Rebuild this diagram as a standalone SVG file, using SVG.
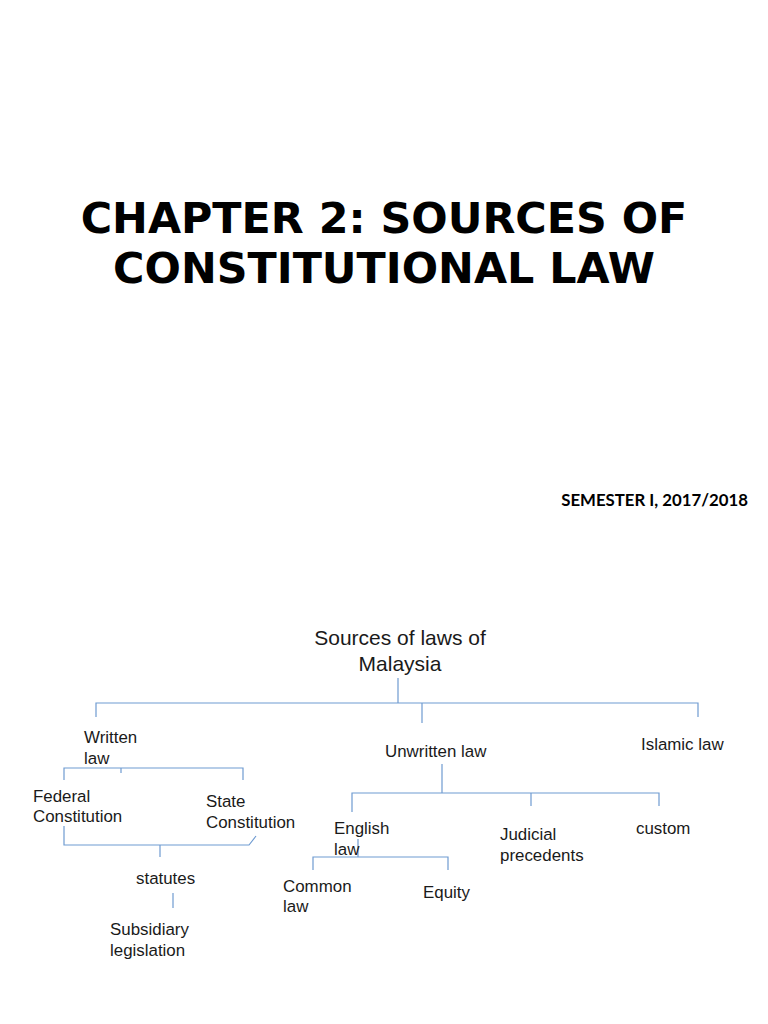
<svg xmlns="http://www.w3.org/2000/svg" width="768" height="1024" viewBox="0 0 768 1024">
<style>
.t{font-family:"DejaVu Sans",sans-serif;font-weight:bold;font-size:42.8px;fill:#000;text-anchor:middle}
.s{font-family:Lato,"Liberation Sans",sans-serif;font-weight:bold;font-size:16.8px;fill:#000;text-anchor:end}
.l{font-family:"Liberation Sans",Arial,sans-serif;font-size:16.9px;fill:#1a1a1a}
.h{font-family:"Liberation Sans",Arial,sans-serif;font-size:21px;fill:#1a1a1a;text-anchor:middle}
.c{stroke:#6f9bd1;stroke-width:1.2;fill:none}
</style>
<rect width="768" height="1024" fill="#fff"/>
<g id="title">
<text class="t" x="384" y="233">CHAPTER 2: SOURCES OF</text>
<text class="t" x="384" y="283">CONSTITUTIONAL LAW</text>
</g>
<g id="semester"><text class="s" x="748" y="506">SEMESTER I, 2017/2018</text></g>
<g id="connectors">
<path class="c" d="M398,678V703M96,717V703H698V717M422,703V723"/>
<path class="c" d="M64,780V768H243V780M121,768V773"/>
<path class="c" d="M64,826V845H249L256,836M160,845V857"/>
<path class="c" d="M173,893V908"/>
<path class="c" d="M442,764V793M352,812V793H659V806M531,793V806"/>
<path class="c" d="M358,839V857M313,870V857H448V870"/>
</g>
<g id="root"><text class="h" x="400" y="645">Sources of laws of</text><text class="h" x="400" y="671">Malaysia</text></g>
<g id="written"><text class="l" x="84" y="743">Written</text><text class="l" x="84" y="764">law</text></g>
<g id="unwritten"><text class="l" x="385" y="757">Unwritten law</text></g>
<g id="islamic"><text class="l" x="641" y="750">Islamic law</text></g>
<g id="federal"><text class="l" x="33" y="802">Federal</text><text class="l" x="33" y="822">Constitution</text></g>
<g id="state"><text class="l" x="206" y="807">State</text><text class="l" x="206" y="828">Constitution</text></g>
<g id="statutes"><text class="l" x="136" y="884">statutes</text></g>
<g id="subsidiary"><text class="l" x="110" y="935">Subsidiary</text><text class="l" x="110" y="956">legislation</text></g>
<g id="english"><text class="l" x="334" y="834">English</text><text class="l" x="334" y="855">law</text></g>
<g id="judicial"><text class="l" x="500" y="840">Judicial</text><text class="l" x="500" y="861">precedents</text></g>
<g id="custom"><text class="l" x="636" y="834">custom</text></g>
<g id="common"><text class="l" x="283" y="892">Common</text><text class="l" x="283" y="912">law</text></g>
<g id="equity"><text class="l" x="423" y="898">Equity</text></g>
</svg>
